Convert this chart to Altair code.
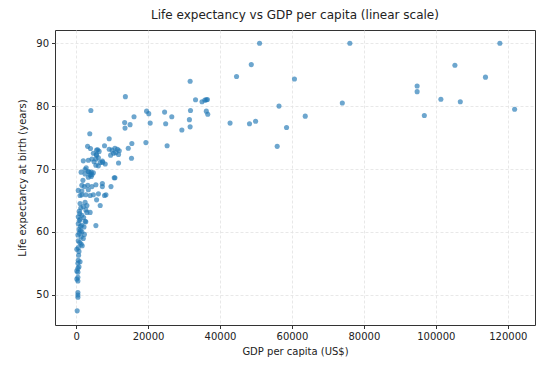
import altair as alt
import pandas as pd

# GDP per capita in thousands of US$
gdp_k = [
    31.7, 13.7, 4.1, 33.2, 35.0, 35.8, 36.2, 36.5, 31.8, 36.2, 36.6, 19.6, 20.2, 24.6, 26.6, 16.1,
    20.6, 13.5, 15.0, 13.6, 24.9, 31.5, 31.7, 29.4, 3.8, 9.2, 19.4, 25.3, 15.5, 7.9, 14.5, 11.8, 15.4,
    51.0, 76.1, 48.7, 44.6, 60.7, 56.4, 74.0, 63.7, 42.8, 48.2, 49.9, 58.5, 55.9,
    117.8, 105.3, 113.8, 94.8, 94.8, 101.4, 106.8, 96.8, 121.9,
    3.2, 4.0, 6.0, 6.4, 9.2, 10.0, 10.8, 11.5, 12.0, 11.0, 10.4, 9.6, 11.8, 4.8, 5.7, 6.2, 5.5,
    2.0, 3.4, 4.4, 5.0, 6.7, 7.3, 8.1, 5.5, 6.2, 2.5, 3.4, 4.2, 4.8, 3.9, 5.7, 5.6, 7.4,
    1.4, 2.5, 3.6, 4.4, 3.4, 4.2, 10.8, 1.6, 2.3, 3.25, 4.4, 5.5, 7.3, 7.3, 9.7, 0.6, 1.6, 3.4,
    1.1, 1.6, 2.7, 3.9, 4.8, 6.2, 7.9, 8.3, 5.7, 1.1, 2.5, 2.0, 3.0, 2.7, 3.0, 3.9, 6.7, 10.6,
    0.6, 1.6, 1.1, 2.5, 2.7, 0.6, 1.6, 0.8, 1.6, 0.5, 1.4, 2.0, 0.6, 1.4, 0.6, 0.2, 0.8,
    0.6, 1.1, 0.5, 0.8, 0.5, 0.2, 0.5, 0.5, 0.2, 0.5, 0.5, 0.5, 0.5, 0.3, 5.5,
    1.0, 0.9, 2.2, 1.2, 0.9, 2.3, 1.0, 1.7, 0.9, 1.3, 2.1, 1.2, 0.7, 1.9, 2.8,
]
# Life expectancy at birth (years)
life_exp = [
    83.95, 81.5, 79.3, 81.0, 80.7, 80.95, 81.0, 81.05, 79.3, 79.2, 78.7, 79.2, 78.8, 79.05, 78.3, 78.3,
    77.3, 77.4, 77.05, 76.5, 77.2, 77.85, 76.7, 76.2, 75.6, 74.8, 74.2, 73.7, 74.05, 73.7, 73.3, 70.95, 71.7,
    90.0, 90.0, 86.6, 84.7, 84.3, 80.0, 80.5, 78.4, 77.3, 77.2, 77.6, 76.6, 73.6,
    90.0, 86.5, 84.6, 83.2, 82.3, 81.1, 80.7, 78.5, 79.5,
    73.6, 73.25, 73.05, 72.8, 73.15, 73.0, 73.3, 73.15, 72.9, 72.6, 72.5, 72.2, 72.3, 72.5, 72.2, 71.8, 71.6,
    71.3, 71.4, 71.6, 71.15, 71.05, 71.25, 70.8, 70.6, 70.5, 69.9, 69.6, 69.5, 69.4, 69.05, 73.0, 72.3, 71.05,
    69.5, 69.2, 69.5, 69.1, 68.7, 68.8, 68.6, 67.4, 67.2, 67.4, 67.2, 67.5, 67.7, 67.2, 67.2, 66.6, 66.5, 66.7,
    65.8, 65.9, 65.9, 65.8, 65.9, 66.05, 65.8, 65.9, 65.1, 64.5, 64.7, 64.05, 64.2, 63.5, 63.1, 63.1, 64.2, 68.6,
    62.4, 62.65, 62.0, 61.7, 61.6, 61.3, 61.05, 60.4, 60.0, 59.5, 59.2, 58.95, 58.6, 58.05, 57.5, 57.25, 56.9,
    55.5, 55.25, 55.0, 54.45, 54.2, 53.8, 53.6, 52.8, 52.5, 52.2, 50.35, 49.98, 49.6, 47.45, 61.0,
    62.9, 61.8, 60.8, 60.2, 59.8, 59.6, 58.3, 57.8, 63.3, 63.8, 62.3, 60.9, 56.3, 68.2, 70.2,
]

x_ticks = [0, 20000, 40000, 60000, 80000, 100000, 120000]
y_ticks = [50, 60, 70, 80, 90]

df = pd.DataFrame({"gdp": [g * 1000 for g in gdp_k], "le": life_exp})

font = "DejaVu Sans"
chart = (
    alt.Chart(df)
    .mark_circle(size=26, color="#1f77b4", opacity=0.65)
    .encode(
        x=alt.X(
            "gdp:Q",
            title="GDP per capita (US$)",
            scale=alt.Scale(domain=[-5865, 127565], nice=False, zero=False),
            axis=alt.Axis(values=x_ticks, format="d"),
        ),
        y=alt.Y(
            "le:Q",
            title="Life expectancy at birth (years)",
            scale=alt.Scale(domain=[45.2, 92.1], nice=False, zero=False),
            axis=alt.Axis(values=y_ticks),
        ),
    )
    .properties(
        width=480,
        height=295,
        title=alt.TitleParams(
            "Life expectancy vs GDP per capita (linear scale)",
            fontSize=12, font=font, fontWeight="normal", color="#222", offset=8,
        ),
        autosize=alt.AutoSizeParams(type="none"),
        padding={"left": 47, "top": 22, "right": 7, "bottom": 40},
    )
    .configure_view(stroke="#333", strokeWidth=1)
    .configure_axis(
        domain=False,
        grid=True,
        gridColor="#e2e2e2",
        gridDash=[3, 2],
        gridWidth=0.8,
        tickColor="#333",
        tickSize=3.5,
        labelFont=font,
        labelFontSize=10,
        labelColor="#222",
        labelPadding=3,
        titleFont=font,
        titleFontSize=10,
        titleFontWeight="normal",
        titleColor="#222",
    )
    .configure_axisX(titlePadding=5)
    .configure_axisY(titlePadding=8)
)

chart.save("out.html", embed_options={"renderer": "svg", "actions": False})
